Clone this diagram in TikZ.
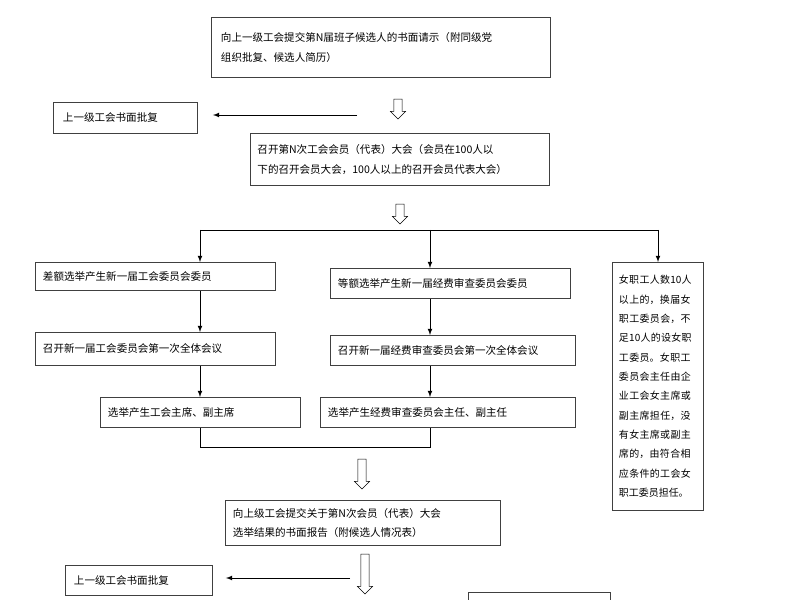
\documentclass[tikz,border=0pt]{standalone}
\usepackage{fontspec}
\setmainfont{Noto Sans CJK SC}
\XeTeXlinebreaklocale "zh"
\XeTeXlinebreakskip=0pt plus 1pt
\usetikzlibrary{shapes.arrows}
\tikzset{
  box/.style={draw=black!75,thick,anchor=north west,inner sep=5pt,align=left,
    font=\fontsize{9}{17}\selectfont},
  hollow/.style={draw,single arrow,minimum height=#1,minimum width=13pt,
    single arrow head extend=1.5pt,inner sep=1.5pt,shape border rotate=270},
  arr/.style={-latex,thick}
}
\begin{document}
\begin{tikzpicture}[x=0.03cm,y=-0.03cm]
\useasboundingbox (0,0) rectangle (800,600);
\begin{scope}
\clip (0,0) rectangle (800,600);
\node[box,minimum width=339*0.03cm,minimum height=60*0.03cm,text width=320*0.03cm] (req) at (211,17) {向上一级工会提交第N届班子候选人的书面请示（附同级党\\组织批复、候选人简历）};
\node[box,minimum width=144*0.03cm,minimum height=31*0.03cm,text width=125*0.03cm] (rep1) at (53,102) {上一级工会书面批复};
\node[box,minimum width=299*0.03cm,minimum height=52*0.03cm,text width=285*0.03cm] (cong) at (250,133) {召开第N次工会会员（代表）大会（会员在100人以\\下的召开会员大会，100人以上的召开会员代表大会）};
\node[hollow=20*0.03cm] (h1) at (398,107) {};
\node[hollow=20*0.03cm] (h2) at (400,212) {};
\coordinate (a1) at (357,115);
\draw[arr] (a1) -- ([xshift=15*0.03cm]rep1.east |- a1);
\coordinate (s) at (200,230);
\coordinate (sm) at (430,230);
\coordinate (sr) at (658,230);
\node[box,minimum width=240*0.03cm,minimum height=28*0.03cm,text width=225*0.03cm] (l1) at (35,262) {差额选举产生新一届工会委员会委员};
\node[box,minimum width=240*0.03cm,minimum height=33*0.03cm,text width=225*0.03cm] (l2) at (35,332) {召开新一届工会委员会第一次全体会议};
\node[box,minimum width=200*0.03cm,minimum height=30*0.03cm,text width=185*0.03cm] (l3) at (100,397) {选举产生工会主席、副主席};
\node[box,minimum width=240*0.03cm,minimum height=30*0.03cm,text width=225*0.03cm] (m1) at (330,268) {等额选举产生新一届经费审查委员会委员};
\node[box,minimum width=245*0.03cm,minimum height=30*0.03cm,text width=230*0.03cm] (m2) at (330,335) {召开新一届经费审查委员会第一次全体会议};
\node[box,minimum width=255*0.03cm,minimum height=30*0.03cm,text width=240*0.03cm] (m3) at (320,397) {选举产生经费审查委员会主任、副主任};
\node[box,minimum width=91*0.03cm,minimum height=248*0.03cm,text width=78*0.03cm,font=\fontsize{8.5}{16.5}\selectfont] (nv) at (612,262) {女职工人数10人以上的，换届女职工委员会，不足10人的设女职工委员。女职工委员会主任由企业工会女主席或副主席担任，没有女主席或副主席的，由符合相应条件的工会女职工委员担任。};
\draw[thick] (s) -- (sr);
\draw[arr] (s) -- (s |- l1.north);
\draw[arr] (sm) -- (sm |- m1.north);
\draw[arr] (sr) -- (sr |- nv.north);
\draw[arr] (l1.south -| s) -- (l2.north -| s);
\draw[arr] (l2.south -| s) -- (l3.north -| s);
\draw[arr] (m1.south -| sm) -- (m2.north -| sm);
\draw[arr] (m2.south -| sm) -- (m3.north -| sm);
\coordinate (j) at (200,447);
\draw[thick] (l3.south -| j) -- (j) -- (430,447) -- (m3.south -| sm);
\node[hollow=30*0.03cm] (h3) at (362,472) {};
\node[box,minimum width=275*0.03cm,minimum height=45*0.03cm,text width=260*0.03cm] (res) at (225,500) {向上级工会提交关于第N次会员（代表）大会\\选举结果的书面报告（附候选人情况表）};
\node[hollow=40*0.03cm] (h4) at (365,572) {};
\node[box,minimum width=147*0.03cm,minimum height=30*0.03cm,text width=130*0.03cm] (rep2) at (65,565) {上一级工会书面批复};
\coordinate (a2) at (350,578);
\draw[arr] (a2) -- ([xshift=13*0.03cm]rep2.east |- a2);
\draw[thick,black!75] (468,620) -- (468,592) -- (610,592) -- (610,620);
\end{scope}
\end{tikzpicture}
\end{document}
